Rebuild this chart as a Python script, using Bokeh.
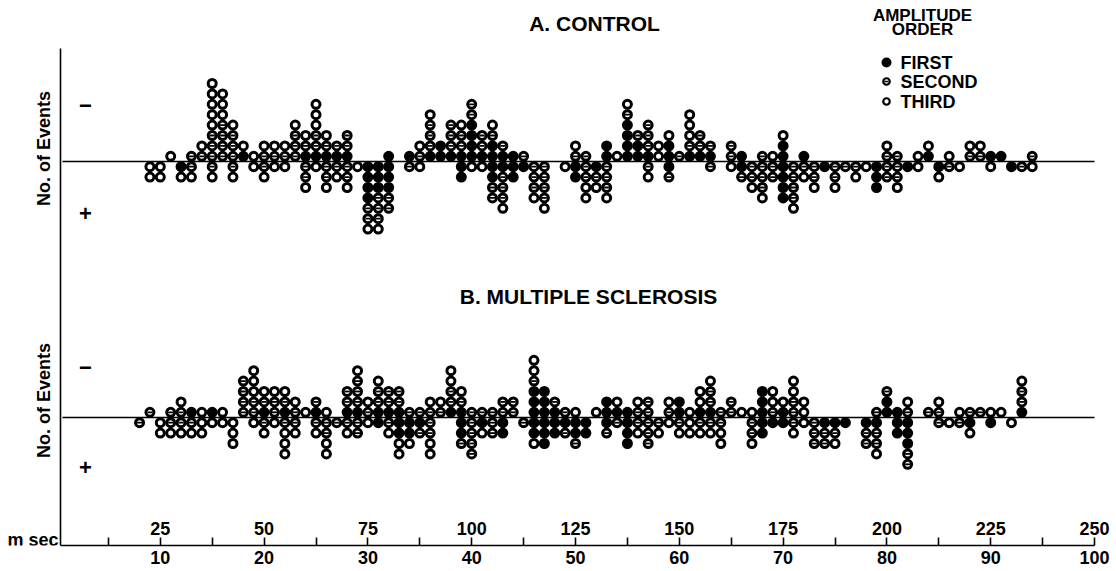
from bokeh.plotting import figure
from bokeh.models import Range1d, LinearAxis, FixedTicker, ColumnDataSource
from bokeh.core.properties import value
from bokeh.embed import file_html
from bokeh.resources import INLINE
import math

# ---------------- data (stack codes read from baseline outward: F=first, S=second, T=third)
a_ord = [9, 10, 11, 12, 13, 14, 15, 16, 17, 18, 19, 20, 21, 22, 23, 24, 25, 26, 27, 28, 29,
         30, 31, 32, 34, 35, 36, 37, 38, 39, 40, 41, 42, 43, 44, 45, 46, 47, 49, 50, 51,
         52, 53, 54, 55, 56, 57, 58, 59, 60, 61, 62, 63, 65, 66, 67, 68, 69, 70, 71, 72,
         73, 74, 75, 76, 77, 78, 79, 80, 81, 82, 83, 84, 85, 86, 87, 88, 89, 90, 91, 92, 93, 94]
a_neg = ["", "", "T", "", "S", "ST", "SSSTTTTT", "SSSSTTT", "SSST", "FT", "T", "ST", "ST", "ST", "SSST", "FST", "FSSTTT", "FST", "FS", "FSS", "",
         "", "", "F", "F", "ST", "FSSST", "FF", "FSSS", "FSST", "FFFFSS", "FSS", "FFST", "FS", "F", "S", "", "", "", "ST", "S",
         "", "FF", "T", "FFFFST", "FFS", "FSSS", "TT", "FFT", "S", "FSTTT", "FSS", "FS", "SS", "F", "", "S", "T", "FFT", "", "F",
         "", "", "", "", "", "", "", "ST", "S", "", "T", "FT", "", "T", "", "ST", "ST", "F", "F", "", "", "S"]
a_pos = ["TT", "TT", "", "FT", "ST", "", "ST", "", "ST", "", "T", "ST", "T", "T", "", "SST", "T", "SST", "ST", "SST", "T",
         "FFFFSST", "FFFSSST", "FFFSS", "S", "T", "", "", "", "FF", "T", "T", "FFSS", "FSSST", "FF", "F", "SSST", "SSSST", "T", "FF", "SSTT",
         "FST", "SSST", "", "", "", "ST", "", "FS", "", "", "", "S", "T", "FS", "SST", "SSST", "SS", "FFFF", "SSSST", "ST",
         "SST", "F", "SST", "S", "ST", "T", "FFF", "SS", "SST", "F", "T", "", "FT", "S", "T", "", "", "T", "", "F", "S", "T"]

b_ord = [8, 9, 10, 11, 12, 13, 14, 15, 16, 17, 18, 19, 20, 21, 22, 23, 24, 25, 26, 27, 28,
         29, 30, 31, 32, 33, 34, 35, 36, 37, 38, 39, 40, 41, 42, 43, 44, 45, 46, 47, 48,
         49, 50, 51, 52, 53, 54, 55, 56, 57, 58, 59, 60, 61, 62, 63, 64, 65, 66, 67, 68,
         69, 70, 71, 72, 73, 74, 75, 76, 78, 79, 80, 81, 82, 84, 85, 86, 87, 88, 89, 90, 91, 92, 93]
b_neg = ["", "S", "", "S", "ST", "F", "T", "F", "T", "", "SSSS", "SSTTT", "FST", "SST", "FST", "ST", "T", "FS", "T", "", "FSS",
         "FSSST", "ST", "FSST", "FSS", "FSS", "S", "S", "ST", "ST", "FSSTT", "FST", "S", "S", "S", "SS", "SS", "", "FFFSTT", "FFF", "FS",
         "S", "T", "", "T", "FF", "FT", "F", "ST", "SS", "", "ST", "FF", "T", "FTT", "FSST", "S", "SS", "T", "T", "FFF",
         "STT", "FT", "SSTT", "TT", "", "", "", "", "", "S", "FFS", "F", "ST", "S", "ST", "", "T", "S", "S", "T", "T", "", "FSST"]
b_pos = ["S", "", "TT", "ST", "ST", "ST", "TT", "T", "T", "TTT", "", "T", "ST", "T", "STTT", "ST", "", "ST", "SSTT", "S", "ST",
         "SS", "T", "F", "ST", "FFTT", "FFT", "FS", "SSTT", "", "", "FFS", "SSSS", "FT", "SS", "FF", "", "S", "FFT", "FFF", "FF",
         "FS", "FFS", "FF", "", "FS", "S", "FFF", "ST", "SSS", "ST", "T", "ST", "TT", "ST", "ST", "STT", "", "", "SST", "FF",
         "F", "F", "ST", "T", "SSS", "FSS", "FST", "F", "FSS", "FSST", "", "FF", "FFFSS", "", "S", "T", "S", "FT", "", "F", "", "T", ""]

ord_ticks = [10, 20, 30, 40, 50, 60, 70, 80, 90, 100]
ord_minor = [5, 15, 25, 35, 45, 55, 65, 75, 85, 95]
ms_ticks = [25, 50, 75, 100, 125, 150, 175, 200, 225, 250]
legend_labels = ["FIRST", "SECOND", "THIRD"]

# ---------------- layout constants (pixels)
W, H = 1116, 571
FRAME_H = 545          # frame bottom = x axis line
PX_PER_ORD = 10.38
X0_PX = 56.0           # pixel of ord 0
STEP = 10.4            # pixel height of one event (y unit)

def xd(px):
    return (px - X0_PX) / PX_PER_ORD

def yd(py):
    return (FRAME_H - py) / STEP

BASE_A = yd(161)
BASE_B = yd(417)
AXIS_X = xd(60)

p = figure(width=W, height=H, x_range=Range1d(xd(0), xd(W)), y_range=Range1d(0, FRAME_H / STEP),
           output_backend="svg", toolbar_location=None, x_axis_type=None, y_axis_type=None,
           min_border=0, min_border_bottom=H - FRAME_H)
p.outline_line_color = None
p.background_fill_color = "white"
p.border_fill_color = "white"

FONT = "Liberation Sans"

# bottom axis (ord)
ax = LinearAxis(ticker=FixedTicker(ticks=ord_ticks, minor_ticks=ord_minor),
                bounds=(AXIS_X, 100))
ax.axis_line_width = 1.6
ax.axis_line_color = "black"
ax.major_tick_in = 8
ax.major_tick_out = 0
ax.minor_tick_in = 8
ax.minor_tick_out = 0
ax.major_tick_line_width = 1.6
ax.minor_tick_line_width = 1.6
ax.major_tick_line_color = "black"
ax.minor_tick_line_color = "black"
ax.major_label_text_font = FONT
ax.major_label_text_font_style = "bold"
ax.major_label_text_font_size = "18px"
ax.major_label_text_color = "black"
ax.major_label_standoff = 5
p.add_layout(ax, "below")

# vertical axis line
p.segment(x0=[AXIS_X], y0=[0], x1=[AXIS_X], y1=[yd(48)], line_color="black", line_width=1.6)
# baselines
p.segment(x0=[xd(62), xd(62)], y0=[BASE_A, BASE_B], x1=[100, 100], y1=[BASE_A, BASE_B],
          line_color="black", line_width=1.6)

# m sec tick labels (above axis line)
p.text(x=[m / 2.5 for m in ms_ticks], y=[yd(528)] * len(ms_ticks), text=[str(m) for m in ms_ticks],
       text_align="center", text_baseline="middle", text_font=value(FONT), text_font_style="bold",
       text_font_size="18px", text_color="black")
p.text(x=[xd(58), xd(58)], y=[yd(539), yd(561)], text=["m sec", "ord"],
       text_align="right", text_baseline="middle", text_font=value(FONT), text_font_style="bold",
       text_font_size="18px", text_color="black")

# expand stacks into points
def expand(ords, neg, pos, base):
    pts = {"F": ([], []), "S": ([], []), "T": ([], [])}
    for o, up, dn in zip(ords, neg, pos):
        for k, c in enumerate(up):
            pts[c][0].append(o)
            pts[c][1].append(base + (k + 0.5))
        for k, c in enumerate(dn):
            pts[c][0].append(o)
            pts[c][1].append(base - (k + 0.5))
    return pts

SIZE = 8
LW = 3.0
for ords, neg, pos, base in [(a_ord, a_neg, a_pos, BASE_A), (b_ord, b_neg, b_pos, BASE_B)]:
    pts = expand(ords, neg, pos, base)
    xt, yt = pts["T"]
    xs, ys = pts["S"]
    xf, yf = pts["F"]
    p.scatter(x=xt, y=yt, marker="circle", size=SIZE, fill_color="white", line_color="black", line_width=LW)
    p.scatter(x=xs, y=ys, marker="circle", size=SIZE, fill_color="white", line_color="black", line_width=LW)
    p.scatter(x=xs, y=ys, marker="dash", size=5, line_color="black", line_width=1.8)
    p.scatter(x=xf, y=yf, marker="circle", size=SIZE, fill_color="black", line_color="black", line_width=LW)

# panel texts
p.text(x=[xd(594), xd(588)], y=[yd(23), yd(296)], text=["A. CONTROL", "B. MULTIPLE SCLEROSIS"],
       text_align="center", text_baseline="middle", text_font=value(FONT), text_font_style="bold",
       text_font_size="21px", text_color="black")
p.text(x=[xd(43), xd(43)], y=[yd(148), yd(400)], text=["No. of Events", "No. of Events"],
       angle=math.pi / 2, text_align="center", text_baseline="middle", text_font=value(FONT),
       text_font_style="bold", text_font_size="18px", text_color="black")
p.text(x=[xd(85)] * 4, y=[yd(105), yd(213), yd(367), yd(467)], text=["\u2212", "+", "\u2212", "+"],
       text_align="center", text_baseline="middle", text_font=value(FONT), text_font_style="bold",
       text_font_size="22px", text_color="black")

# legend
p.text(x=[xd(922), xd(922)], y=[yd(15), yd(29)], text=["AMPLITUDE", "ORDER"],
       text_align="center", text_baseline="middle", text_font=value(FONT), text_font_style="bold",
       text_font_size="17px", text_color="black")
leg_y = [yd(62), yd(81), yd(101)]
p.text(x=[xd(900)] * 3, y=leg_y, text=legend_labels,
       text_align="left", text_baseline="middle", text_font=value(FONT), text_font_style="bold",
       text_font_size="18px", text_color="black")
p.scatter(x=[xd(886)], y=[leg_y[0]], marker="circle", size=8, fill_color="black", line_color="black", line_width=2)
p.scatter(x=[xd(886)] * 2, y=leg_y[1:], marker="circle", size=6.5, fill_color="white", line_color="black", line_width=2.2)
p.scatter(x=[xd(886)], y=[leg_y[1]], marker="dash", size=4, line_color="black", line_width=1.4)

open("out.html", "w").write(file_html(p, INLINE))
